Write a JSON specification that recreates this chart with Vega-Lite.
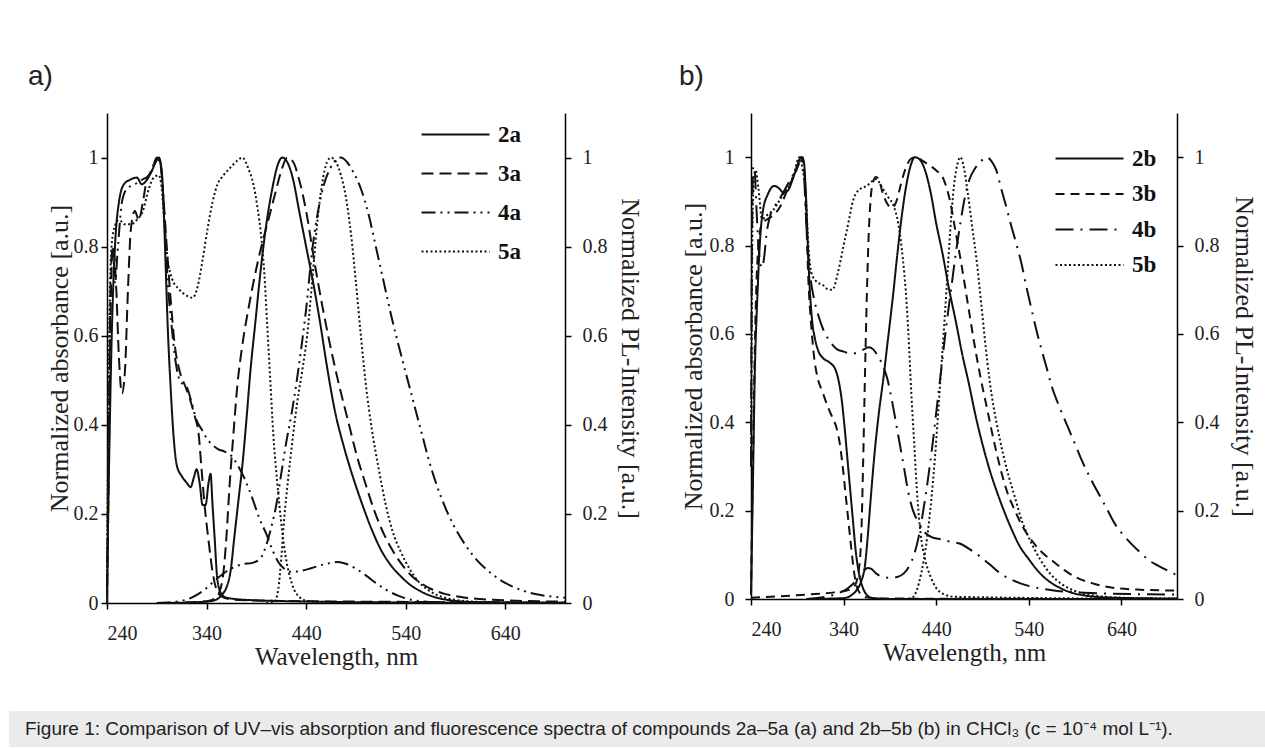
{
  "$schema": "https://vega.github.io/schema/vega-lite/v6.json",
  "background": "white",
  "padding": {"left": 9, "top": 63, "right": 0, "bottom": 0},
  "config": {
    "view": {"stroke": null},
    "font": "Liberation Serif",
    "axis": {"grid": false, "domainColor": "#000", "domainWidth": 1.5, "tickColor": "#000", "tickWidth": 1.5, "tickSize": 6,
      "labelFont": "Liberation Serif", "labelFontSize": 20, "labelColor": "#222",
      "titleFont": "Liberation Serif", "titleFontSize": 26, "titleFontWeight": "normal", "titleColor": "#222"},
    "legend": {"symbolType": "M-3,0H3", "symbolSize": 514, "symbolStrokeWidth": 2, "symbolStrokeColor": "#111", "symbolFillColor": "transparent",
      "labelFont": "Liberation Serif", "labelFontSize": 23, "labelFontWeight": "bold", "labelColor": "#111",
      "labelOffset": 30},
    "title": {"font": "Liberation Sans", "fontSize": 28, "fontWeight": "normal", "anchor": "start", "color": "#222", "baseline": "alphabetic", "frame": "group"},
    "line": {"color": "#111", "strokeWidth": 2, "interpolate": "monotone", "clip": true}
  },
  "datasets": {
    "a_abs": [
      {"s":"2a","nm":240,"v":0.02},{"s":"2a","nm":242,"v":0.3},{"s":"2a","nm":245,"v":0.62},{"s":"2a","nm":248,"v":0.8},{"s":"2a","nm":252,"v":0.9},{"s":"2a","nm":257,"v":0.94},{"s":"2a","nm":263,"v":0.95},{"s":"2a","nm":270,"v":0.955},{"s":"2a","nm":275,"v":0.94},{"s":"2a","nm":280,"v":0.95},{"s":"2a","nm":285,"v":0.97},{"s":"2a","nm":289,"v":0.99},{"s":"2a","nm":292,"v":1.0},{"s":"2a","nm":295,"v":0.97},{"s":"2a","nm":297,"v":0.88},{"s":"2a","nm":299,"v":0.75},{"s":"2a","nm":301,"v":0.62},{"s":"2a","nm":304,"v":0.48},{"s":"2a","nm":307,"v":0.37},{"s":"2a","nm":310,"v":0.31},{"s":"2a","nm":315,"v":0.285},{"s":"2a","nm":320,"v":0.27},{"s":"2a","nm":324,"v":0.26},{"s":"2a","nm":327,"v":0.28},{"s":"2a","nm":330,"v":0.3},{"s":"2a","nm":333,"v":0.27},{"s":"2a","nm":336,"v":0.22},{"s":"2a","nm":339,"v":0.22},{"s":"2a","nm":342,"v":0.27},{"s":"2a","nm":344,"v":0.29},{"s":"2a","nm":346,"v":0.22},{"s":"2a","nm":348,"v":0.15},{"s":"2a","nm":351,"v":0.05},{"s":"2a","nm":355,"v":0.02},{"s":"2a","nm":360,"v":0.012},{"s":"2a","nm":380,"v":0.007},{"s":"2a","nm":450,"v":0.003},{"s":"2a","nm":550,"v":0.001},{"s":"2a","nm":700,"v":0},
      {"s":"3a","nm":240,"v":0},{"s":"3a","nm":242,"v":0.35},{"s":"3a","nm":244,"v":0.7},{"s":"3a","nm":246,"v":0.8},{"s":"3a","nm":249,"v":0.72},{"s":"3a","nm":252,"v":0.55},{"s":"3a","nm":255,"v":0.47},{"s":"3a","nm":258,"v":0.52},{"s":"3a","nm":261,"v":0.7},{"s":"3a","nm":264,"v":0.84},{"s":"3a","nm":268,"v":0.88},{"s":"3a","nm":272,"v":0.86},{"s":"3a","nm":276,"v":0.9},{"s":"3a","nm":280,"v":0.95},{"s":"3a","nm":285,"v":0.97},{"s":"3a","nm":290,"v":1.0},{"s":"3a","nm":294,"v":0.98},{"s":"3a","nm":297,"v":0.9},{"s":"3a","nm":300,"v":0.8},{"s":"3a","nm":304,"v":0.68},{"s":"3a","nm":308,"v":0.58},{"s":"3a","nm":313,"v":0.52},{"s":"3a","nm":318,"v":0.49},{"s":"3a","nm":323,"v":0.46},{"s":"3a","nm":328,"v":0.42},{"s":"3a","nm":332,"v":0.38},{"s":"3a","nm":335,"v":0.3},{"s":"3a","nm":338,"v":0.22},{"s":"3a","nm":342,"v":0.14},{"s":"3a","nm":346,"v":0.07},{"s":"3a","nm":350,"v":0.03},{"s":"3a","nm":355,"v":0.015},{"s":"3a","nm":365,"v":0.008},{"s":"3a","nm":400,"v":0.005},{"s":"3a","nm":500,"v":0.003},{"s":"3a","nm":700,"v":0.001},
      {"s":"4a","nm":240,"v":0.02},{"s":"4a","nm":242,"v":0.45},{"s":"4a","nm":244,"v":0.75},{"s":"4a","nm":246,"v":0.8},{"s":"4a","nm":248,"v":0.72},{"s":"4a","nm":251,"v":0.8},{"s":"4a","nm":255,"v":0.9},{"s":"4a","nm":260,"v":0.93},{"s":"4a","nm":268,"v":0.94},{"s":"4a","nm":275,"v":0.95},{"s":"4a","nm":282,"v":0.96},{"s":"4a","nm":288,"v":0.99},{"s":"4a","nm":292,"v":1.0},{"s":"4a","nm":295,"v":0.96},{"s":"4a","nm":298,"v":0.85},{"s":"4a","nm":301,"v":0.72},{"s":"4a","nm":305,"v":0.62},{"s":"4a","nm":309,"v":0.54},{"s":"4a","nm":313,"v":0.5},{"s":"4a","nm":317,"v":0.49},{"s":"4a","nm":320,"v":0.485},{"s":"4a","nm":325,"v":0.45},{"s":"4a","nm":330,"v":0.41},{"s":"4a","nm":335,"v":0.39},{"s":"4a","nm":340,"v":0.37},{"s":"4a","nm":346,"v":0.355},{"s":"4a","nm":352,"v":0.345},{"s":"4a","nm":358,"v":0.34},{"s":"4a","nm":365,"v":0.33},{"s":"4a","nm":371,"v":0.31},{"s":"4a","nm":378,"v":0.28},{"s":"4a","nm":386,"v":0.235},{"s":"4a","nm":393,"v":0.19},{"s":"4a","nm":400,"v":0.155},{"s":"4a","nm":406,"v":0.12},{"s":"4a","nm":412,"v":0.092},{"s":"4a","nm":418,"v":0.077},{"s":"4a","nm":425,"v":0.07},{"s":"4a","nm":435,"v":0.072},{"s":"4a","nm":445,"v":0.078},{"s":"4a","nm":455,"v":0.085},{"s":"4a","nm":465,"v":0.09},{"s":"4a","nm":472,"v":0.092},{"s":"4a","nm":480,"v":0.088},{"s":"4a","nm":490,"v":0.077},{"s":"4a","nm":500,"v":0.062},{"s":"4a","nm":510,"v":0.045},{"s":"4a","nm":520,"v":0.03},{"s":"4a","nm":533,"v":0.016},{"s":"4a","nm":548,"v":0.006},{"s":"4a","nm":570,"v":0.002},{"s":"4a","nm":700,"v":0},
      {"s":"5a","nm":240,"v":0.05},{"s":"5a","nm":242,"v":0.55},{"s":"5a","nm":244,"v":0.78},{"s":"5a","nm":247,"v":0.84},{"s":"5a","nm":252,"v":0.86},{"s":"5a","nm":258,"v":0.85},{"s":"5a","nm":264,"v":0.85},{"s":"5a","nm":270,"v":0.86},{"s":"5a","nm":276,"v":0.88},{"s":"5a","nm":282,"v":0.93},{"s":"5a","nm":287,"v":0.955},{"s":"5a","nm":292,"v":0.96},{"s":"5a","nm":295,"v":0.93},{"s":"5a","nm":298,"v":0.84},{"s":"5a","nm":301,"v":0.77},{"s":"5a","nm":305,"v":0.73},{"s":"5a","nm":312,"v":0.705},{"s":"5a","nm":320,"v":0.69},{"s":"5a","nm":326,"v":0.685},{"s":"5a","nm":331,"v":0.71},{"s":"5a","nm":336,"v":0.77},{"s":"5a","nm":341,"v":0.84},{"s":"5a","nm":346,"v":0.9},{"s":"5a","nm":351,"v":0.94},{"s":"5a","nm":357,"v":0.96},{"s":"5a","nm":365,"v":0.98},{"s":"5a","nm":372,"v":0.995},{"s":"5a","nm":376,"v":1.0},{"s":"5a","nm":382,"v":0.975},{"s":"5a","nm":387,"v":0.94},{"s":"5a","nm":391,"v":0.89},{"s":"5a","nm":395,"v":0.82},{"s":"5a","nm":398,"v":0.74},{"s":"5a","nm":401,"v":0.62},{"s":"5a","nm":404,"v":0.5},{"s":"5a","nm":407,"v":0.38},{"s":"5a","nm":411,"v":0.27},{"s":"5a","nm":415,"v":0.18},{"s":"5a","nm":419,"v":0.11},{"s":"5a","nm":423,"v":0.065},{"s":"5a","nm":428,"v":0.03},{"s":"5a","nm":434,"v":0.012},{"s":"5a","nm":442,"v":0.004},{"s":"5a","nm":460,"v":0.001},{"s":"5a","nm":700,"v":0}
    ],
    "a_pl": [
      {"s":"2a","nm":300,"v":0},{"s":"2a","nm":340,"v":0.003},{"s":"2a","nm":350,"v":0.008},{"s":"2a","nm":356,"v":0.02},{"s":"2a","nm":360,"v":0.035},{"s":"2a","nm":364,"v":0.07},{"s":"2a","nm":368,"v":0.15},{"s":"2a","nm":372,"v":0.23},{"s":"2a","nm":376,"v":0.31},{"s":"2a","nm":380,"v":0.41},{"s":"2a","nm":384,"v":0.52},{"s":"2a","nm":389,"v":0.63},{"s":"2a","nm":394,"v":0.74},{"s":"2a","nm":400,"v":0.85},{"s":"2a","nm":406,"v":0.93},{"s":"2a","nm":411,"v":0.98},{"s":"2a","nm":416,"v":1.0},{"s":"2a","nm":421,"v":0.99},{"s":"2a","nm":427,"v":0.95},{"s":"2a","nm":433,"v":0.88},{"s":"2a","nm":440,"v":0.8},{"s":"2a","nm":447,"v":0.72},{"s":"2a","nm":454,"v":0.63},{"s":"2a","nm":461,"v":0.53},{"s":"2a","nm":469,"v":0.43},{"s":"2a","nm":478,"v":0.35},{"s":"2a","nm":486,"v":0.29},{"s":"2a","nm":495,"v":0.23},{"s":"2a","nm":505,"v":0.17},{"s":"2a","nm":515,"v":0.12},{"s":"2a","nm":525,"v":0.085},{"s":"2a","nm":535,"v":0.06},{"s":"2a","nm":545,"v":0.04},{"s":"2a","nm":556,"v":0.025},{"s":"2a","nm":568,"v":0.014},{"s":"2a","nm":585,"v":0.006},{"s":"2a","nm":610,"v":0.002},{"s":"2a","nm":700,"v":0},
      {"s":"3a","nm":300,"v":0},{"s":"3a","nm":340,"v":0.004},{"s":"3a","nm":348,"v":0.01},{"s":"3a","nm":353,"v":0.025},{"s":"3a","nm":357,"v":0.07},{"s":"3a","nm":360,"v":0.15},{"s":"3a","nm":363,"v":0.26},{"s":"3a","nm":367,"v":0.38},{"s":"3a","nm":371,"v":0.49},{"s":"3a","nm":376,"v":0.58},{"s":"3a","nm":382,"v":0.66},{"s":"3a","nm":388,"v":0.73},{"s":"3a","nm":395,"v":0.8},{"s":"3a","nm":402,"v":0.86},{"s":"3a","nm":409,"v":0.92},{"s":"3a","nm":415,"v":0.97},{"s":"3a","nm":421,"v":1.0},{"s":"3a","nm":427,"v":0.99},{"s":"3a","nm":433,"v":0.95},{"s":"3a","nm":440,"v":0.88},{"s":"3a","nm":448,"v":0.77},{"s":"3a","nm":456,"v":0.67},{"s":"3a","nm":464,"v":0.58},{"s":"3a","nm":473,"v":0.49},{"s":"3a","nm":482,"v":0.41},{"s":"3a","nm":491,"v":0.33},{"s":"3a","nm":500,"v":0.265},{"s":"3a","nm":508,"v":0.21},{"s":"3a","nm":516,"v":0.165},{"s":"3a","nm":525,"v":0.125},{"s":"3a","nm":535,"v":0.09},{"s":"3a","nm":545,"v":0.063},{"s":"3a","nm":555,"v":0.045},{"s":"3a","nm":565,"v":0.032},{"s":"3a","nm":580,"v":0.02},{"s":"3a","nm":600,"v":0.012},{"s":"3a","nm":640,"v":0.006},{"s":"3a","nm":700,"v":0.003},
      {"s":"4a","nm":290,"v":0},{"s":"4a","nm":310,"v":0.003},{"s":"4a","nm":325,"v":0.012},{"s":"4a","nm":338,"v":0.03},{"s":"4a","nm":348,"v":0.05},{"s":"4a","nm":358,"v":0.068},{"s":"4a","nm":367,"v":0.08},{"s":"4a","nm":376,"v":0.087},{"s":"4a","nm":386,"v":0.09},{"s":"4a","nm":394,"v":0.1},{"s":"4a","nm":400,"v":0.13},{"s":"4a","nm":405,"v":0.17},{"s":"4a","nm":410,"v":0.22},{"s":"4a","nm":415,"v":0.29},{"s":"4a","nm":420,"v":0.36},{"s":"4a","nm":425,"v":0.42},{"s":"4a","nm":430,"v":0.49},{"s":"4a","nm":435,"v":0.57},{"s":"4a","nm":440,"v":0.66},{"s":"4a","nm":446,"v":0.79},{"s":"4a","nm":452,"v":0.88},{"s":"4a","nm":458,"v":0.94},{"s":"4a","nm":464,"v":0.975},{"s":"4a","nm":470,"v":0.995},{"s":"4a","nm":475,"v":1.0},{"s":"4a","nm":481,"v":0.99},{"s":"4a","nm":488,"v":0.965},{"s":"4a","nm":495,"v":0.93},{"s":"4a","nm":503,"v":0.87},{"s":"4a","nm":510,"v":0.8},{"s":"4a","nm":518,"v":0.72},{"s":"4a","nm":526,"v":0.64},{"s":"4a","nm":535,"v":0.56},{"s":"4a","nm":545,"v":0.475},{"s":"4a","nm":555,"v":0.39},{"s":"4a","nm":566,"v":0.3},{"s":"4a","nm":576,"v":0.235},{"s":"4a","nm":588,"v":0.175},{"s":"4a","nm":600,"v":0.13},{"s":"4a","nm":612,"v":0.095},{"s":"4a","nm":625,"v":0.068},{"s":"4a","nm":640,"v":0.045},{"s":"4a","nm":655,"v":0.03},{"s":"4a","nm":670,"v":0.02},{"s":"4a","nm":685,"v":0.015},{"s":"4a","nm":700,"v":0.012},
      {"s":"5a","nm":400,"v":0},{"s":"5a","nm":408,"v":0.002},{"s":"5a","nm":412,"v":0.03},{"s":"5a","nm":415,"v":0.1},{"s":"5a","nm":418,"v":0.19},{"s":"5a","nm":422,"v":0.28},{"s":"5a","nm":426,"v":0.36},{"s":"5a","nm":431,"v":0.45},{"s":"5a","nm":436,"v":0.52},{"s":"5a","nm":441,"v":0.6},{"s":"5a","nm":446,"v":0.72},{"s":"5a","nm":451,"v":0.85},{"s":"5a","nm":456,"v":0.94},{"s":"5a","nm":461,"v":0.99},{"s":"5a","nm":465,"v":1.0},{"s":"5a","nm":470,"v":0.99},{"s":"5a","nm":475,"v":0.96},{"s":"5a","nm":480,"v":0.91},{"s":"5a","nm":485,"v":0.83},{"s":"5a","nm":490,"v":0.72},{"s":"5a","nm":495,"v":0.6},{"s":"5a","nm":500,"v":0.49},{"s":"5a","nm":506,"v":0.39},{"s":"5a","nm":513,"v":0.3},{"s":"5a","nm":520,"v":0.22},{"s":"5a","nm":527,"v":0.16},{"s":"5a","nm":535,"v":0.115},{"s":"5a","nm":543,"v":0.08},{"s":"5a","nm":552,"v":0.05},{"s":"5a","nm":562,"v":0.03},{"s":"5a","nm":575,"v":0.015},{"s":"5a","nm":590,"v":0.007},{"s":"5a","nm":620,"v":0.002},{"s":"5a","nm":700,"v":0}
    ],
    "b_abs": [
      {"s":"2b","nm":240,"v":0.01},{"s":"2b","nm":242,"v":0.25},{"s":"2b","nm":244,"v":0.5},{"s":"2b","nm":247,"v":0.69},{"s":"2b","nm":250,"v":0.82},{"s":"2b","nm":253,"v":0.88},{"s":"2b","nm":258,"v":0.915},{"s":"2b","nm":265,"v":0.935},{"s":"2b","nm":270,"v":0.93},{"s":"2b","nm":275,"v":0.92},{"s":"2b","nm":280,"v":0.925},{"s":"2b","nm":285,"v":0.95},{"s":"2b","nm":290,"v":0.98},{"s":"2b","nm":294,"v":1.0},{"s":"2b","nm":297,"v":0.99},{"s":"2b","nm":299,"v":0.93},{"s":"2b","nm":301,"v":0.82},{"s":"2b","nm":303,"v":0.72},{"s":"2b","nm":306,"v":0.63},{"s":"2b","nm":309,"v":0.59},{"s":"2b","nm":313,"v":0.56},{"s":"2b","nm":318,"v":0.545},{"s":"2b","nm":325,"v":0.535},{"s":"2b","nm":331,"v":0.52},{"s":"2b","nm":335,"v":0.49},{"s":"2b","nm":338,"v":0.45},{"s":"2b","nm":341,"v":0.39},{"s":"2b","nm":344,"v":0.32},{"s":"2b","nm":347,"v":0.25},{"s":"2b","nm":350,"v":0.18},{"s":"2b","nm":353,"v":0.11},{"s":"2b","nm":356,"v":0.065},{"s":"2b","nm":360,"v":0.03},{"s":"2b","nm":364,"v":0.012},{"s":"2b","nm":370,"v":0.003},{"s":"2b","nm":390,"v":0},{"s":"2b","nm":700,"v":0},
      {"s":"3b","nm":240,"v":0.01},{"s":"3b","nm":242,"v":0.3},{"s":"3b","nm":245,"v":0.65},{"s":"3b","nm":248,"v":0.8},{"s":"3b","nm":252,"v":0.85},{"s":"3b","nm":258,"v":0.86},{"s":"3b","nm":265,"v":0.87},{"s":"3b","nm":272,"v":0.89},{"s":"3b","nm":280,"v":0.93},{"s":"3b","nm":287,"v":0.96},{"s":"3b","nm":293,"v":0.99},{"s":"3b","nm":296,"v":1.0},{"s":"3b","nm":298,"v":0.95},{"s":"3b","nm":300,"v":0.84},{"s":"3b","nm":302,"v":0.72},{"s":"3b","nm":305,"v":0.62},{"s":"3b","nm":308,"v":0.55},{"s":"3b","nm":312,"v":0.5},{"s":"3b","nm":317,"v":0.47},{"s":"3b","nm":323,"v":0.435},{"s":"3b","nm":328,"v":0.41},{"s":"3b","nm":332,"v":0.39},{"s":"3b","nm":336,"v":0.35},{"s":"3b","nm":339,"v":0.3},{"s":"3b","nm":342,"v":0.24},{"s":"3b","nm":345,"v":0.18},{"s":"3b","nm":348,"v":0.12},{"s":"3b","nm":351,"v":0.065},{"s":"3b","nm":354,"v":0.03},{"s":"3b","nm":358,"v":0.012},{"s":"3b","nm":364,"v":0.004},{"s":"3b","nm":380,"v":0.001},{"s":"3b","nm":700,"v":0},
      {"s":"4b","nm":240,"v":0.3},{"s":"4b","nm":241,"v":0.8},{"s":"4b","nm":242.5,"v":0.98},{"s":"4b","nm":244,"v":0.97},{"s":"4b","nm":246,"v":0.88},{"s":"4b","nm":248,"v":0.8},{"s":"4b","nm":250,"v":0.76},{"s":"4b","nm":252,"v":0.75},{"s":"4b","nm":254,"v":0.77},{"s":"4b","nm":257,"v":0.83},{"s":"4b","nm":261,"v":0.87},{"s":"4b","nm":266,"v":0.89},{"s":"4b","nm":272,"v":0.91},{"s":"4b","nm":280,"v":0.94},{"s":"4b","nm":288,"v":0.97},{"s":"4b","nm":294,"v":1.0},{"s":"4b","nm":297,"v":0.97},{"s":"4b","nm":299,"v":0.88},{"s":"4b","nm":301,"v":0.8},{"s":"4b","nm":304,"v":0.73},{"s":"4b","nm":308,"v":0.68},{"s":"4b","nm":313,"v":0.64},{"s":"4b","nm":318,"v":0.61},{"s":"4b","nm":323,"v":0.59},{"s":"4b","nm":328,"v":0.575},{"s":"4b","nm":333,"v":0.565},{"s":"4b","nm":340,"v":0.56},{"s":"4b","nm":348,"v":0.555},{"s":"4b","nm":355,"v":0.558},{"s":"4b","nm":362,"v":0.565},{"s":"4b","nm":367,"v":0.57},{"s":"4b","nm":372,"v":0.565},{"s":"4b","nm":377,"v":0.55},{"s":"4b","nm":382,"v":0.53},{"s":"4b","nm":387,"v":0.5},{"s":"4b","nm":393,"v":0.44},{"s":"4b","nm":399,"v":0.37},{"s":"4b","nm":405,"v":0.3},{"s":"4b","nm":410,"v":0.24},{"s":"4b","nm":415,"v":0.2},{"s":"4b","nm":419,"v":0.18},{"s":"4b","nm":423,"v":0.165},{"s":"4b","nm":428,"v":0.15},{"s":"4b","nm":435,"v":0.14},{"s":"4b","nm":445,"v":0.135},{"s":"4b","nm":455,"v":0.13},{"s":"4b","nm":466,"v":0.125},{"s":"4b","nm":478,"v":0.11},{"s":"4b","nm":488,"v":0.095},{"s":"4b","nm":498,"v":0.078},{"s":"4b","nm":508,"v":0.06},{"s":"4b","nm":520,"v":0.045},{"s":"4b","nm":530,"v":0.036},{"s":"4b","nm":545,"v":0.027},{"s":"4b","nm":565,"v":0.02},{"s":"4b","nm":600,"v":0.014},{"s":"4b","nm":700,"v":0.01},
      {"s":"5b","nm":240,"v":0.3},{"s":"5b","nm":242,"v":0.9},{"s":"5b","nm":245,"v":0.97},{"s":"5b","nm":248,"v":0.93},{"s":"5b","nm":252,"v":0.86},{"s":"5b","nm":258,"v":0.87},{"s":"5b","nm":264,"v":0.88},{"s":"5b","nm":270,"v":0.9},{"s":"5b","nm":276,"v":0.92},{"s":"5b","nm":281,"v":0.935},{"s":"5b","nm":286,"v":0.96},{"s":"5b","nm":292,"v":1.0},{"s":"5b","nm":296,"v":0.97},{"s":"5b","nm":299,"v":0.92},{"s":"5b","nm":302,"v":0.8},{"s":"5b","nm":305,"v":0.74},{"s":"5b","nm":310,"v":0.72},{"s":"5b","nm":318,"v":0.71},{"s":"5b","nm":324,"v":0.7},{"s":"5b","nm":328,"v":0.7},{"s":"5b","nm":334,"v":0.74},{"s":"5b","nm":340,"v":0.8},{"s":"5b","nm":346,"v":0.86},{"s":"5b","nm":350,"v":0.9},{"s":"5b","nm":356,"v":0.925},{"s":"5b","nm":365,"v":0.935},{"s":"5b","nm":375,"v":0.95},{"s":"5b","nm":382,"v":0.93},{"s":"5b","nm":388,"v":0.91},{"s":"5b","nm":394,"v":0.89},{"s":"5b","nm":399,"v":0.85},{"s":"5b","nm":404,"v":0.77},{"s":"5b","nm":407,"v":0.7},{"s":"5b","nm":410,"v":0.6},{"s":"5b","nm":413,"v":0.47},{"s":"5b","nm":416,"v":0.36},{"s":"5b","nm":420,"v":0.22},{"s":"5b","nm":423,"v":0.15},{"s":"5b","nm":428,"v":0.09},{"s":"5b","nm":434,"v":0.05},{"s":"5b","nm":440,"v":0.025},{"s":"5b","nm":448,"v":0.011},{"s":"5b","nm":460,"v":0.005},{"s":"5b","nm":700,"v":0}
    ],
    "b_pl": [
      {"s":"2b","nm":300,"v":0},{"s":"2b","nm":340,"v":0.002},{"s":"2b","nm":348,"v":0.008},{"s":"2b","nm":354,"v":0.02},{"s":"2b","nm":359,"v":0.04},{"s":"2b","nm":363,"v":0.075},{"s":"2b","nm":366,"v":0.14},{"s":"2b","nm":369,"v":0.22},{"s":"2b","nm":373,"v":0.32},{"s":"2b","nm":378,"v":0.42},{"s":"2b","nm":383,"v":0.5},{"s":"2b","nm":388,"v":0.59},{"s":"2b","nm":393,"v":0.68},{"s":"2b","nm":398,"v":0.78},{"s":"2b","nm":403,"v":0.87},{"s":"2b","nm":408,"v":0.94},{"s":"2b","nm":413,"v":0.985},{"s":"2b","nm":417,"v":1.0},{"s":"2b","nm":422,"v":0.995},{"s":"2b","nm":428,"v":0.97},{"s":"2b","nm":434,"v":0.92},{"s":"2b","nm":440,"v":0.85},{"s":"2b","nm":447,"v":0.78},{"s":"2b","nm":454,"v":0.7},{"s":"2b","nm":461,"v":0.63},{"s":"2b","nm":468,"v":0.555},{"s":"2b","nm":475,"v":0.49},{"s":"2b","nm":483,"v":0.41},{"s":"2b","nm":490,"v":0.35},{"s":"2b","nm":498,"v":0.29},{"s":"2b","nm":506,"v":0.24},{"s":"2b","nm":514,"v":0.195},{"s":"2b","nm":522,"v":0.155},{"s":"2b","nm":530,"v":0.12},{"s":"2b","nm":540,"v":0.09},{"s":"2b","nm":550,"v":0.063},{"s":"2b","nm":560,"v":0.043},{"s":"2b","nm":572,"v":0.027},{"s":"2b","nm":585,"v":0.015},{"s":"2b","nm":600,"v":0.008},{"s":"2b","nm":630,"v":0.003},{"s":"2b","nm":700,"v":0.001},
      {"s":"3b","nm":240,"v":0.003},{"s":"3b","nm":270,"v":0.006},{"s":"3b","nm":300,"v":0.01},{"s":"3b","nm":330,"v":0.015},{"s":"3b","nm":345,"v":0.02},{"s":"3b","nm":352,"v":0.03},{"s":"3b","nm":356,"v":0.06},{"s":"3b","nm":359,"v":0.14},{"s":"3b","nm":361,"v":0.3},{"s":"3b","nm":363,"v":0.5},{"s":"3b","nm":365,"v":0.68},{"s":"3b","nm":367,"v":0.82},{"s":"3b","nm":369,"v":0.9},{"s":"3b","nm":372,"v":0.945},{"s":"3b","nm":375,"v":0.955},{"s":"3b","nm":378,"v":0.95},{"s":"3b","nm":382,"v":0.92},{"s":"3b","nm":387,"v":0.895},{"s":"3b","nm":392,"v":0.885},{"s":"3b","nm":397,"v":0.9},{"s":"3b","nm":402,"v":0.94},{"s":"3b","nm":407,"v":0.975},{"s":"3b","nm":412,"v":0.995},{"s":"3b","nm":417,"v":1.0},{"s":"3b","nm":423,"v":0.995},{"s":"3b","nm":430,"v":0.985},{"s":"3b","nm":440,"v":0.97},{"s":"3b","nm":448,"v":0.95},{"s":"3b","nm":455,"v":0.9},{"s":"3b","nm":461,"v":0.83},{"s":"3b","nm":467,"v":0.76},{"s":"3b","nm":474,"v":0.67},{"s":"3b","nm":481,"v":0.58},{"s":"3b","nm":488,"v":0.5},{"s":"3b","nm":495,"v":0.43},{"s":"3b","nm":502,"v":0.36},{"s":"3b","nm":510,"v":0.29},{"s":"3b","nm":517,"v":0.24},{"s":"3b","nm":525,"v":0.2},{"s":"3b","nm":533,"v":0.165},{"s":"3b","nm":543,"v":0.133},{"s":"3b","nm":553,"v":0.108},{"s":"3b","nm":565,"v":0.087},{"s":"3b","nm":578,"v":0.066},{"s":"3b","nm":590,"v":0.05},{"s":"3b","nm":608,"v":0.036},{"s":"3b","nm":626,"v":0.027},{"s":"3b","nm":660,"v":0.021},{"s":"3b","nm":700,"v":0.019},
      {"s":"4b","nm":300,"v":0},{"s":"4b","nm":330,"v":0.01},{"s":"4b","nm":345,"v":0.025},{"s":"4b","nm":355,"v":0.045},{"s":"4b","nm":361,"v":0.062},{"s":"4b","nm":366,"v":0.07},{"s":"4b","nm":370,"v":0.068},{"s":"4b","nm":375,"v":0.058},{"s":"4b","nm":382,"v":0.05},{"s":"4b","nm":390,"v":0.048},{"s":"4b","nm":398,"v":0.05},{"s":"4b","nm":405,"v":0.058},{"s":"4b","nm":411,"v":0.075},{"s":"4b","nm":416,"v":0.1},{"s":"4b","nm":421,"v":0.14},{"s":"4b","nm":426,"v":0.2},{"s":"4b","nm":431,"v":0.27},{"s":"4b","nm":436,"v":0.35},{"s":"4b","nm":441,"v":0.44},{"s":"4b","nm":446,"v":0.53},{"s":"4b","nm":451,"v":0.62},{"s":"4b","nm":456,"v":0.7},{"s":"4b","nm":461,"v":0.78},{"s":"4b","nm":466,"v":0.85},{"s":"4b","nm":471,"v":0.91},{"s":"4b","nm":476,"v":0.95},{"s":"4b","nm":482,"v":0.975},{"s":"4b","nm":488,"v":0.99},{"s":"4b","nm":494,"v":1.0},{"s":"4b","nm":500,"v":0.99},{"s":"4b","nm":505,"v":0.97},{"s":"4b","nm":510,"v":0.93},{"s":"4b","nm":516,"v":0.885},{"s":"4b","nm":521,"v":0.845},{"s":"4b","nm":527,"v":0.8},{"s":"4b","nm":532,"v":0.76},{"s":"4b","nm":537,"v":0.71},{"s":"4b","nm":543,"v":0.655},{"s":"4b","nm":548,"v":0.61},{"s":"4b","nm":553,"v":0.57},{"s":"4b","nm":559,"v":0.525},{"s":"4b","nm":565,"v":0.48},{"s":"4b","nm":574,"v":0.43},{"s":"4b","nm":583,"v":0.385},{"s":"4b","nm":591,"v":0.345},{"s":"4b","nm":597,"v":0.315},{"s":"4b","nm":606,"v":0.275},{"s":"4b","nm":615,"v":0.24},{"s":"4b","nm":624,"v":0.205},{"s":"4b","nm":633,"v":0.17},{"s":"4b","nm":642,"v":0.145},{"s":"4b","nm":652,"v":0.122},{"s":"4b","nm":661,"v":0.104},{"s":"4b","nm":670,"v":0.087},{"s":"4b","nm":680,"v":0.075},{"s":"4b","nm":691,"v":0.063},{"s":"4b","nm":700,"v":0.054},
      {"s":"5b","nm":405,"v":0},{"s":"5b","nm":414,"v":0.003},{"s":"5b","nm":419,"v":0.02},{"s":"5b","nm":424,"v":0.06},{"s":"5b","nm":429,"v":0.12},{"s":"5b","nm":434,"v":0.21},{"s":"5b","nm":439,"v":0.33},{"s":"5b","nm":444,"v":0.48},{"s":"5b","nm":448,"v":0.6},{"s":"5b","nm":452,"v":0.73},{"s":"5b","nm":456,"v":0.86},{"s":"5b","nm":460,"v":0.95},{"s":"5b","nm":463,"v":0.985},{"s":"5b","nm":466,"v":1.0},{"s":"5b","nm":470,"v":0.975},{"s":"5b","nm":474,"v":0.92},{"s":"5b","nm":479,"v":0.84},{"s":"5b","nm":484,"v":0.76},{"s":"5b","nm":489,"v":0.66},{"s":"5b","nm":495,"v":0.54},{"s":"5b","nm":500,"v":0.46},{"s":"5b","nm":506,"v":0.39},{"s":"5b","nm":512,"v":0.33},{"s":"5b","nm":518,"v":0.28},{"s":"5b","nm":525,"v":0.23},{"s":"5b","nm":532,"v":0.18},{"s":"5b","nm":542,"v":0.13},{"s":"5b","nm":553,"v":0.087},{"s":"5b","nm":564,"v":0.055},{"s":"5b","nm":576,"v":0.033},{"s":"5b","nm":590,"v":0.018},{"s":"5b","nm":610,"v":0.008},{"s":"5b","nm":640,"v":0.003},{"s":"5b","nm":700,"v":0.001}
    ]
  },
  "vconcat": [
    {
      "hconcat": [
        {
          "width": 19, "height": 10,
          "view": {"fill": "transparent", "stroke": null},
          "data": {"values": []},
          "mark": "point"
        },
        {
          "hconcat": [
            {
              "width": 458, "height": 490,
              "title": {"text": "a)", "dx": -79, "offset": 22},
              "layer": [
                {
                  "data": {"name": "a_abs"},
                  "mark": {"type": "line"},
                  "encoding": {
                    "x": {"field": "nm", "type": "quantitative", "scale": {"domain": [240, 700], "nice": false},
                      "axis": {"values": [240, 340, 440, 540, 640], "title": "Wavelength, nm", "titleFontSize": 25, "labelPadding": 14, "titlePadding": 1}},
                    "y": {"field": "v", "type": "quantitative", "scale": {"domain": [0, 1.1], "nice": false},
                      "axis": {"values": [0, 0.2, 0.4, 0.6, 0.8, 1], "format": "~g", "title": "Normalized absorbance [a.u.]", "labelPadding": 3, "titlePadding": 1}},
                    "strokeDash": {"field": "s", "type": "nominal",
                      "scale": {"domain": ["2a", "3a", "4a", "5a"], "range": [[1, 0], [12, 6], [14, 5, 2, 5, 2, 5], [2, 2.5]]},
                      "legend": {"orient": "none", "legendX": 336, "legendY": 9, "title": null, "rowPadding": 14}}
                  }
                },
                {
                  "data": {"name": "a_pl"},
                  "mark": {"type": "line"},
                  "encoding": {
                    "x": {"field": "nm", "type": "quantitative"},
                    "y": {"field": "v", "type": "quantitative", "scale": {"domain": [0, 1.1], "nice": false},
                      "axis": {"orient": "right", "values": [0, 0.2, 0.4, 0.6, 0.8, 1], "format": "~g", "title": "Normalized PL-Intensity [a.u.]", "labelPadding": 11, "titlePadding": 9}},
                    "strokeDash": {"field": "s", "type": "nominal"}
                  }
                }
              ],
              "resolve": {"scale": {"y": "independent"}}
            },
            {
              "width": 426, "height": 486,
              "title": {"text": "b)", "dx": -72, "offset": 22},
              "layer": [
                {
                  "data": {"name": "b_abs"},
                  "mark": {"type": "line"},
                  "encoding": {
                    "x": {"field": "nm", "type": "quantitative", "scale": {"domain": [240, 700], "nice": false},
                      "axis": {"values": [240, 340, 440, 540, 640], "title": "Wavelength, nm", "titleFontSize": 25, "labelPadding": 14, "titlePadding": 1}},
                    "y": {"field": "v", "type": "quantitative", "scale": {"domain": [0, 1.1], "nice": false},
                      "axis": {"values": [0, 0.2, 0.4, 0.6, 0.8, 1], "format": "~g", "title": "Normalized absorbance [a.u.]", "labelPadding": 11, "titlePadding": 3}},
                    "strokeDash": {"field": "s", "type": "nominal",
                      "scale": {"domain": ["2b", "3b", "4b", "5b"], "range": [[1, 0], [9, 6], [18, 7, 2, 7], [2, 2.5]]},
                      "legend": {"orient": "none", "legendX": 326, "legendY": 33, "title": null, "rowPadding": 10.5}}
                  }
                },
                {
                  "data": {"name": "b_pl"},
                  "mark": {"type": "line"},
                  "encoding": {
                    "x": {"field": "nm", "type": "quantitative"},
                    "y": {"field": "v", "type": "quantitative", "scale": {"domain": [0, 1.1], "nice": false},
                      "axis": {"orient": "right", "values": [0, 0.2, 0.4, 0.6, 0.8, 1], "format": "~g", "title": "Normalized PL-Intensity [a.u.]", "labelPadding": 11, "titlePadding": 11}},
                    "strokeDash": {"field": "s", "type": "nominal"}
                  }
                }
              ],
              "resolve": {"scale": {"y": "independent"}}
            }
          ],
          "spacing": 37,
          "resolve": {"scale": {"x": "independent", "y": "independent", "strokeDash": "independent"}, "legend": {"strokeDash": "independent"}}
        }
      ],
      "spacing": 0
    },
    {
      "width": 1256, "height": 36,
      "view": {"fill": "#ebebeb", "stroke": null},
      "data": {"values": [{"t": "Figure 1: Comparison of UV–vis absorption and fluorescence spectra of compounds 2a–5a (a) and 2b–5b (b) in CHCl₃ (c = 10⁻⁴ mol L⁻¹)."}]},
      "mark": {"type": "text", "align": "left", "baseline": "middle", "font": "Liberation Sans", "fontSize": 19, "color": "#222", "dx": 16},
      "encoding": {
        "text": {"field": "t", "type": "nominal"},
        "x": {"datum": 0, "type": "quantitative", "scale": {"domain": [0, 1]}, "axis": null},
        "y": {"datum": 0.5, "type": "quantitative", "scale": {"domain": [0, 1]}, "axis": null}
      }
    }
  ],
  "spacing": 42
}
